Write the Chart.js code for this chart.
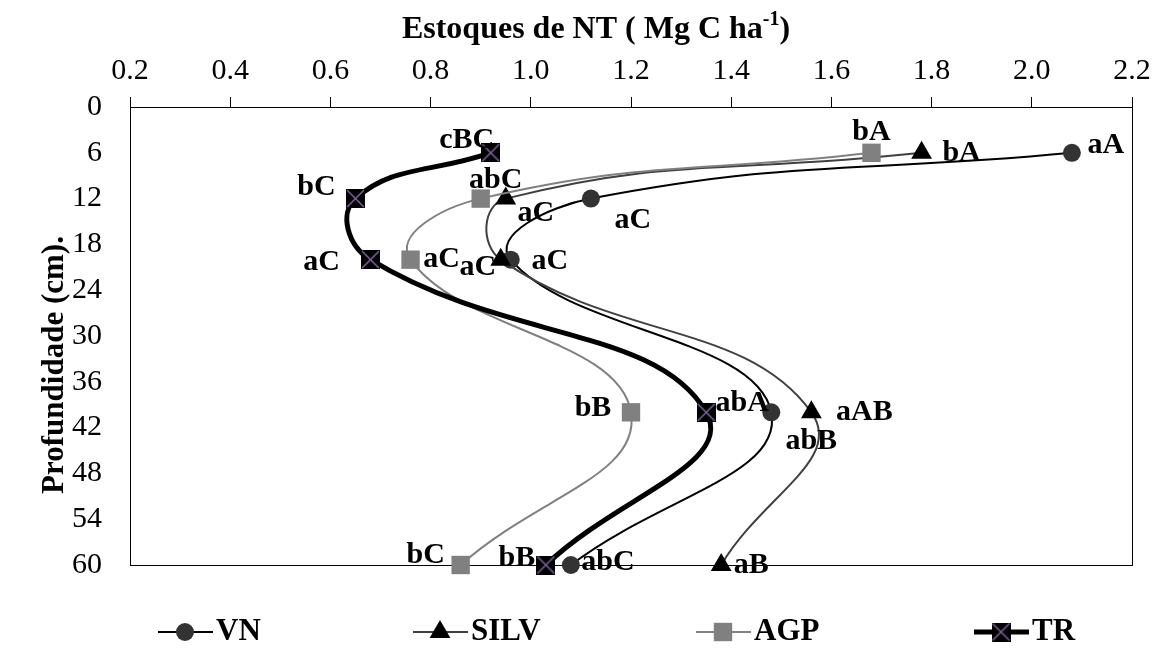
<!DOCTYPE html>
<html>
<head>
<meta charset="utf-8">
<script src="https://cdn.jsdelivr.net/npm/chart.js@4.4.1/dist/chart.umd.min.js"></script>
<style>
    html, body { margin: 0; padding: 0; background: #fff; }
    #wrap { width: 1162px; height: 650px; }
</style>
</head>
<body>
<div id="wrap"><canvas id="myChart"></canvas></div>
<script>
// depth of each sample (cm)
const depths = [6, 12, 20, 40, 60];

// NT stocks (Mg C ha-1)
const vn = [2.08, 1.12, 0.96, 1.48, 1.08];
const silv = [1.78, 0.95, 0.94, 1.56, 1.38];
const agp = [1.68, 0.90, 0.76, 1.20, 0.86];
const tr = [0.92, 0.65, 0.68, 1.35, 1.03];

// letters of the mean comparison test
const vnLetters = ["aA", "aC", "aC", "abB", "abC"];
const silvLetters = ["bA", "aC", "aC", "aAB", "aB"];
const agpLetters = ["bA", "abC", "aC", "bB", "bC"];
const trLetters = ["cBC", "bC", "aC", "abA", "bB"];

const seriesNames = ["VN", "SILV", "AGP", "TR"];

// where each letter sits relative to its point (px)
const letterOffsets = [
    [[34, -8], [42, 22], [39, 2], [40, 29], [37, -3]],
    [[40, 0], [30, 15], [-23, 8], [53, 0], [30, 0]],
    [[0, -21], [15, -18], [31, 0], [-38, -4], [-35, -10]],
    [[-24, -13], [-39, -11], [-49, 3], [36, -9], [-29, -7]],
];
const legendX = [158, 413, 696, 974];

const FONT = "'Liberation Serif', 'Times New Roman', serif";

// square with purple cross for TR
const trMark = document.createElement("canvas");
trMark.width = 19;
trMark.height = 19;
(function () {
    const c = trMark.getContext("2d");
    c.fillStyle = "#000";
    c.fillRect(0, 0, 19, 19);
    c.strokeStyle = "#8064a2";
    c.lineWidth = 1.5;
    c.beginPath();
    c.moveTo(1, 1);
    c.lineTo(18, 18);
    c.moveTo(18, 1);
    c.lineTo(1, 18);
    c.stroke();
})();

function toPoints(values) {
    return depths.map((d, i) => ({ x: values[i], y: d }));
}

const letters = [vnLetters, silvLetters, agpLetters, trLetters];

const extras = {
    id: "extras",
    beforeDatasetsDraw(chart) {
        const { ctx, chartArea: a } = chart;
        ctx.save();
        ctx.strokeStyle = "#000";
        ctx.lineWidth = 1;
        ctx.strokeRect(a.left + 0.5, a.top + 0.5, a.right - a.left, a.bottom - a.top);
        ctx.restore();
    },
    afterDatasetsDraw(chart) {
        const ctx = chart.ctx;
        ctx.save();
        ctx.fillStyle = "#000";
        ctx.font = "bold 30px " + FONT;
        ctx.textAlign = "center";
        ctx.textBaseline = "middle";
        chart.data.datasets.forEach((ds, i) => {
            const meta = chart.getDatasetMeta(i);
            meta.data.forEach((el, j) => {
                const off = letterOffsets[i][j];
                ctx.fillText(letters[i][j], el.x + off[0], el.y + off[1]);
            });
        });
        ctx.restore();
    },
    afterDraw(chart) {
        const ctx = chart.ctx;
        ctx.save();
        // axis titles
        ctx.fillStyle = "#000";
        ctx.textBaseline = "alphabetic";
        const main = "Estoques de NT ( Mg C ha";
        const sup = "-1";
        const tail = ")";
        ctx.font = "bold 32px " + FONT;
        const w1 = ctx.measureText(main).width;
        ctx.font = "bold 20px " + FONT;
        const w2 = ctx.measureText(sup).width;
        ctx.font = "bold 32px " + FONT;
        const w3 = ctx.measureText(tail).width;
        let x0 = 596 - (w1 + w2 + w3) / 2;
        ctx.textAlign = "left";
        ctx.fillText(main, x0, 38);
        ctx.font = "bold 20px " + FONT;
        ctx.fillText(sup, x0 + w1, 25);
        ctx.font = "bold 32px " + FONT;
        ctx.fillText(tail, x0 + w1 + w2, 38);

        ctx.save();
        ctx.translate(55, 365);
        ctx.rotate(-Math.PI / 2);
        ctx.textAlign = "center";
        ctx.textBaseline = "middle";
        ctx.font = "bold 31px " + FONT;
        ctx.fillText("Profundidade (cm).", 0, 0);
        ctx.restore();

        // legend
        const ly = 632;
        chart.data.datasets.forEach((ds, i) => {
            const x = legendX[i];
            ctx.strokeStyle = ds.borderColor;
            ctx.lineWidth = ds.borderWidth;
            ctx.beginPath();
            ctx.moveTo(x, ly);
            ctx.lineTo(x + 55, ly);
            ctx.stroke();
            ctx.fillStyle = ds.pointBackgroundColor;
            ctx.strokeStyle = ds.pointBorderColor;
            Chart.helpers.drawPoint(ctx, {
                pointStyle: ds.pointStyle,
                radius: ds.pointRadius,
                borderWidth: 0,
                rotation: 0,
            }, x + 27, ly);
            ctx.fillStyle = "#000";
            ctx.font = "bold 31px " + FONT;
            ctx.textAlign = "left";
            ctx.textBaseline = "middle";
            ctx.fillText(seriesNames[i], x + 58, ly);
        });
        ctx.restore();
    },
};

const common = {
    showLine: true,
    tension: 0.45,
    clip: false,
    pointBorderWidth: 0,
    pointHoverRadius: 0,
};

new Chart(document.getElementById("myChart"), {
    type: "scatter",
    data: {
        datasets: [
            Object.assign({}, common, {
                label: seriesNames[0],
                data: toPoints(vn),
                borderColor: "#000",
                borderWidth: 2,
                pointStyle: "circle",
                pointRadius: 9,
                pointBackgroundColor: "#333",
                pointBorderColor: "#333",
                order: 4,
            }),
            Object.assign({}, common, {
                label: seriesNames[1],
                data: toPoints(silv),
                borderColor: "#404040",
                borderWidth: 2,
                pointStyle: "triangle",
                pointRadius: 12,
                pointBackgroundColor: "#000",
                pointBorderColor: "#000",
                order: 3,
            }),
            Object.assign({}, common, {
                label: seriesNames[2],
                data: toPoints(agp),
                borderColor: "#808080",
                borderWidth: 2,
                pointStyle: "rect",
                pointRadius: 13,
                pointBackgroundColor: "#808080",
                pointBorderColor: "#808080",
                order: 2,
            }),
            Object.assign({}, common, {
                label: seriesNames[3],
                data: toPoints(tr),
                borderColor: "#000",
                borderWidth: 5,
                pointStyle: trMark,
                pointRadius: 10,
                pointBackgroundColor: "#000",
                pointBorderColor: "#000",
                order: 1,
            }),
        ],
    },
    options: {
        responsive: true,
        maintainAspectRatio: false,
        animation: false,
        devicePixelRatio: 1,
        layout: { padding: { left: 0, top: 0, right: 30, bottom: 85 } },
        plugins: {
            legend: { display: false },
            tooltip: { enabled: false },
        },
        scales: {
            x: {
                type: "linear",
                position: "top",
                min: 0.2,
                max: 2.2,
                afterFit: (scale) => { scale.height = 107; },
                ticks: {
                    stepSize: 0.2,
                    maxRotation: 0,
                    padding: 8,
                    color: "#000",
                    font: { family: FONT, size: 30 },
                    callback: (v) => v.toFixed(1),
                },
                grid: {
                    drawOnChartArea: false,
                    tickLength: 10,
                    color: "#000",
                },
                border: { display: true, color: "#000" },
            },
            y: {
                type: "linear",
                reverse: true,
                min: 0,
                max: 60,
                afterFit: (scale) => { scale.width = 130; },
                ticks: {
                    stepSize: 6,
                    padding: 28,
                    color: "#000",
                    font: { family: FONT, size: 30 },
                },
                grid: { drawOnChartArea: false, drawTicks: false },
                border: { display: true, color: "#000" },
            },
        },
    },
    plugins: [extras],
});
</script>
</body>
</html>
